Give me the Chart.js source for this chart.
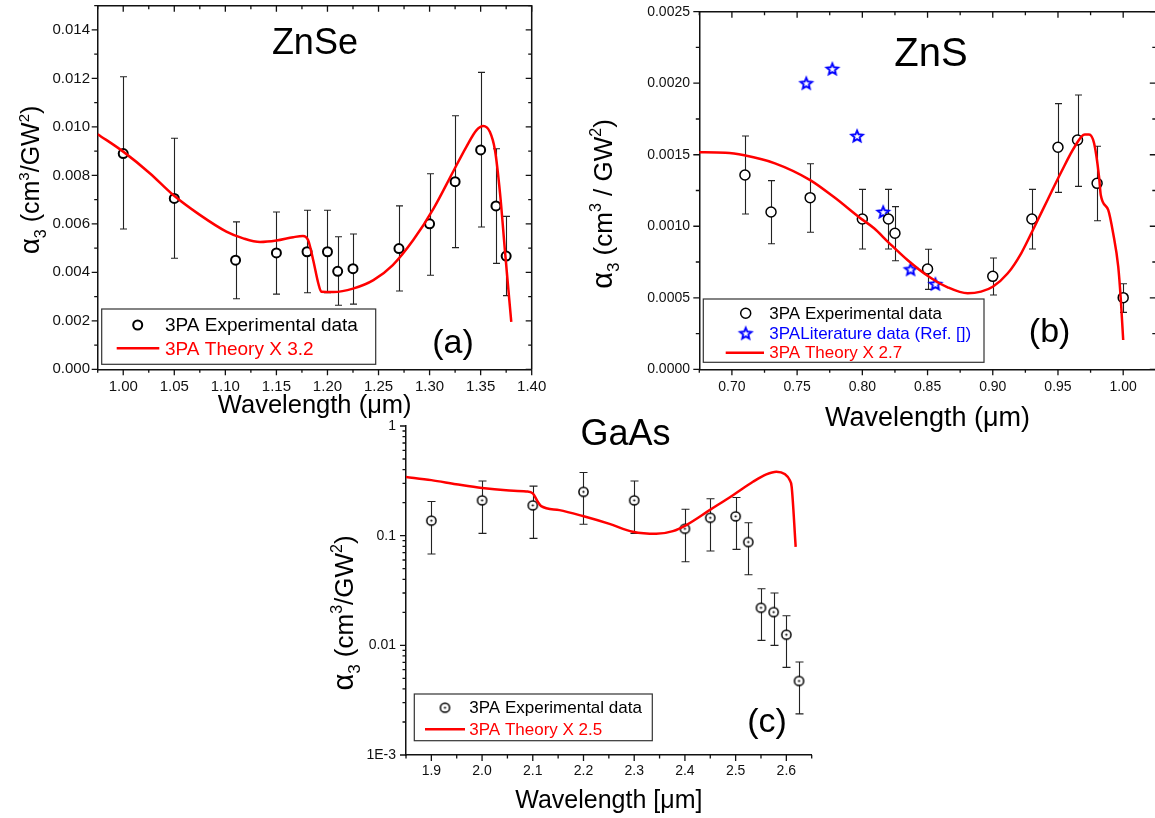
<!DOCTYPE html>
<html><head><meta charset="utf-8">
<script src="https://cdn.jsdelivr.net/npm/chart.js@4.4.1/dist/chart.umd.min.js"></script>
<style>
html,body{margin:0;padding:0;background:#fff;overflow:hidden;width:1155px;height:818px;position:relative;}
canvas{position:absolute;}
</style></head><body>
<canvas id="cA" width="560" height="420" style="left:0px;top:0px"></canvas>
<canvas id="cB" width="600" height="440" style="left:560px;top:0px"></canvas>
<canvas id="cC" width="530" height="418" style="left:300px;top:400px"></canvas>
<script>
// ---------------- DATA ----------------
// (a) ZnSe
const znseExpX  = [1.00, 1.05, 1.11, 1.15, 1.18, 1.20, 1.21, 1.225, 1.27, 1.30, 1.325, 1.35, 1.365, 1.375];
const znseExpY  = [0.0089, 0.00705, 0.0045, 0.0048, 0.00485, 0.00485, 0.00404, 0.00415, 0.00498, 0.0060, 0.00774, 0.00905, 0.00674, 0.00467];
const znseErrHi = [0.01207, 0.00953, 0.00608, 0.00649, 0.00656, 0.00656, 0.00547, 0.00558, 0.00674, 0.00807, 0.01046, 0.01225, 0.0091, 0.00631];
const znseErrLo = [0.00579, 0.00458, 0.00291, 0.0031, 0.00316, 0.00316, 0.00264, 0.00269, 0.00323, 0.00388, 0.00502, 0.00587, 0.00437, 0.00304];
const znseThX = [0.975, 1.000, 1.026, 1.049, 1.075, 1.101, 1.1175, 1.134, 1.150, 1.1665, 1.176, 1.181, 1.186, 1.191, 1.194, 1.206, 1.225, 1.245, 1.264, 1.284, 1.304, 1.323, 1.336, 1.346, 1.3526, 1.359, 1.364, 1.369, 1.374, 1.380];
const znseThY = [0.0097, 0.00898, 0.00809, 0.00719, 0.00637, 0.00568, 0.0054, 0.00525, 0.00531, 0.00545, 0.0055, 0.00533, 0.00451, 0.00355, 0.0032, 0.00319, 0.00333, 0.00368, 0.0043, 0.00533, 0.00664, 0.00815, 0.00918, 0.00987, 0.01004, 0.0098, 0.00905, 0.00726, 0.00479, 0.00196];
const znseXLabels = ['1.00','1.05','1.10','1.15','1.20','1.25','1.30','1.35','1.40'];
const znseYLabels = ['0.000','0.002','0.004','0.006','0.008','0.010','0.012','0.014'];

// (b) ZnS
const znsExpX  = [0.71, 0.73, 0.76, 0.80, 0.82, 0.825, 0.85, 0.90, 0.93, 0.95, 0.965, 0.98, 1.00];
const znsExpY  = [0.001358, 0.00110, 0.00120, 0.001051, 0.001051, 0.000951, 0.000701, 0.000650, 0.001051, 0.001552, 0.001603, 0.00130, 0.000501];
const znsErrHi = [0.001631, 0.001319, 0.001437, 0.001258, 0.001258, 0.001137, 0.000839, 0.000778, 0.001258, 0.001857, 0.001918, 0.001559, 0.000598];
const znsErrLo = [0.001086, 0.000878, 0.000958, 0.000841, 0.000841, 0.000759, 0.000559, 0.000519, 0.000841, 0.001237, 0.001279, 0.001039, 0.000398];
const znsLitX = [0.757, 0.777, 0.796, 0.816, 0.837, 0.856];
const znsLitY = [0.0020, 0.0021, 0.001631, 0.00110, 0.000699, 0.000596];
const znsThX = [0.674, 0.695, 0.7095, 0.733, 0.760, 0.7795, 0.7975, 0.809, 0.820, 0.8346, 0.850, 0.8654, 0.8808, 0.891, 0.900, 0.9115, 0.9218, 0.932, 0.942, 0.9526, 0.9628, 0.9705, 0.9738, 0.9777, 0.9815, 0.9828, 0.9885, 0.9923, 0.9962, 0.9982, 1.000];
const znsThY = [0.001517, 0.001514, 0.001496, 0.00144, 0.001323, 0.001195, 0.001063, 0.000986, 0.000888, 0.000764, 0.000654, 0.000573, 0.000531, 0.000543, 0.000577, 0.000671, 0.000811, 0.000997, 0.001184, 0.001381, 0.001556, 0.001642, 0.001642, 0.00158, 0.001346, 0.001219, 0.001114, 0.000951, 0.000717, 0.000484, 0.000205];
const znsXLabels = ['0.70','0.75','0.80','0.85','0.90','0.95','1.00'];
const znsYLabels = ['0.0000','0.0005','0.0010','0.0015','0.0020','0.0025'];

// (c) GaAs
const gaasExpX  = [1.9, 2.0, 2.1, 2.2, 2.3, 2.4, 2.45, 2.5, 2.525, 2.55, 2.575, 2.6, 2.625];
const gaasExpY  = [0.137, 0.210, 0.189, 0.251, 0.210, 0.1156, 0.1456, 0.150, 0.0875, 0.0220, 0.0201, 0.0125, 0.00473];
const gaasErrHi = [0.205, 0.315, 0.283, 0.377, 0.315, 0.174, 0.217, 0.223, 0.131, 0.0328, 0.030, 0.0186, 0.00705];
const gaasErrLo = [0.068, 0.105, 0.0945, 0.127, 0.105, 0.0578, 0.0724, 0.075, 0.044, 0.0111, 0.010, 0.0063, 0.00237];
const gaasThX = [1.849, 1.9, 1.9487, 2.0, 2.0474, 2.0869, 2.1, 2.1098, 2.1165, 2.1526, 2.1987, 2.2513, 2.2974, 2.3434, 2.3763, 2.4026, 2.4487, 2.4947, 2.5342, 2.5605, 2.5803, 2.5967, 2.6066, 2.6105, 2.6184];
const gaasThY = [0.344, 0.321, 0.295, 0.272, 0.259, 0.253, 0.243, 0.204, 0.186, 0.171, 0.151, 0.128, 0.1086, 0.104, 0.110, 0.125, 0.171, 0.234, 0.310, 0.362, 0.383, 0.365, 0.321, 0.279, 0.079];
const gaasXLabels = ['1.9','2.0','2.1','2.2','2.3','2.4','2.5','2.6'];
const gaasYLabels = ['1E-3','0.01','0.1','1'];

// ---------------- HELPERS ----------------
const FF = "'Liberation Sans', Arial, Helvetica, sans-serif";
Chart.defaults.font.family = FF;
Chart.defaults.color = '#111';
const RED = '#ff0000', BLUE = '#0000ff';

function zip(xs, ys){ return xs.map((x,i)=>({x:x, y:ys[i]})); }
function range(a,b,step){ const out=[]; const n=Math.round((b-a)/step); for(let k=0;k<=n;k++) out.push(+(a+k*step).toFixed(8)); return out; }
function logMinors(d0,d1){ const out=[]; for(let d=d0; d<d1; d++) for(let k=2;k<=9;k++) out.push(+(k*Math.pow(10,d)).toPrecision(6)); return out; }
function makeTicks(labels, minors){
  const majors = labels.map(parseFloat);
  const all = majors.map((v,i)=>({value:v, lab:labels[i]}));
  minors.forEach(v=>{ if(!majors.some(m=>Math.abs(m-v) <= 1e-6*Math.max(Math.abs(v),1e-12))) all.push({value:v, lab:''}); });
  all.sort((a,b)=>a.value-b.value);
  return all;
}
function axis(o){
  const isX = o.pos === 'bottom';
  return {
    type: o.type || 'linear', position: o.pos, min: o.min, max: o.max,
    grid: {display:false, drawTicks:false},
    border: {display:true, color:'#111', width:1.5},
    ticks: {autoSkip:false, maxRotation:0, minRotation:0, padding:o.pad, color:'#111',
      font:{size:o.fs}, callback:(v,i,t)=> (t[i] && t[i].lab !== undefined) ? t[i].lab : ''},
    afterBuildTicks: s => { s.ticks = makeTicks(o.labels, o.minors); },
    afterFit: s => {
      if (isX) { s.height = o.size; s.paddingLeft = 0; s.paddingRight = 0; }
      else { s.width = o.size; s.paddingTop = 0; s.paddingBottom = 0; }
    },
    title: o.title ? {display:true, text:o.title, color:'#000', font:{size:o.tfs, lineHeight:1}, padding:{top:0,bottom:0}} : {display:false}
  };
}
function starImg(r, color){
  const s = Math.ceil(2*r+6); const c = document.createElement('canvas'); c.width=c.height=s;
  const g = c.getContext('2d'); g.translate(s/2, s/2+0.5); g.beginPath();
  for(let k=0;k<10;k++){ const a=-Math.PI/2+k*Math.PI/5; const rr = (k%2)? r*0.45 : r; g.lineTo(rr*Math.cos(a), rr*Math.sin(a)); }
  g.closePath(); g.fillStyle='#fff'; g.fill(); g.lineWidth=1.9; g.lineJoin='miter'; g.strokeStyle=color; g.stroke();
  return c;
}
function dotCircleImg(r){
  const s = Math.ceil(2*r+5); const c = document.createElement('canvas'); c.width=c.height=s;
  const g = c.getContext('2d');
  g.beginPath(); g.arc(s/2,s/2,r,0,Math.PI*2); g.fillStyle='#fff'; g.fill(); g.lineWidth=1.5; g.strokeStyle='#000'; g.stroke();
  g.beginPath(); g.arc(s/2,s/2,1.1,0,Math.PI*2); g.fillStyle='#000'; g.fill();
  return c;
}
const STAR = starImg(6, BLUE);
const DOTC = dotCircleImg(4.6);

// ---------------- DECORATION PLUGIN ----------------
const CFG = {};
function drawRich(ctx, parts, cx, cy, S){
  ctx.save(); ctx.translate(cx, cy); ctx.rotate(-Math.PI/2);
  let W = 0;
  parts.forEach(p=>{ ctx.font = p.s+'px '+FF; p.w = ctx.measureText(p.t).width; W += p.w; });
  let x = -W/2; ctx.textBaseline='alphabetic'; ctx.textAlign='left'; ctx.fillStyle='#000';
  parts.forEach(p=>{ ctx.font = p.s+'px '+FF; ctx.fillText(p.t, x, 0.35*S + (p.dy||0)); x += p.w; });
  ctx.restore();
}
function drawMarker(ctx, kind, x, y){
  if (kind === 'circle' || kind === 'circle2') {
    ctx.beginPath(); ctx.arc(x, y, kind==='circle'?4.5:5, 0, Math.PI*2);
    ctx.fillStyle='#fff'; ctx.fill(); ctx.lineWidth = kind==='circle'?2:1.5; ctx.strokeStyle='#000'; ctx.stroke();
  } else if (kind === 'star') {
    ctx.drawImage(STAR, x-STAR.width/2, y-STAR.height/2);
  } else if (kind === 'dotc') {
    ctx.drawImage(DOTC, x-DOTC.width/2, y-DOTC.height/2);
  }
}
const deco = {
  id: 'deco',
  beforeDatasetsDraw(chart){
    const c = CFG[chart.canvas.id]; if(!c) return;
    const ctx = chart.ctx, xs = chart.scales.x, ys = chart.scales.y;
    ctx.save(); ctx.strokeStyle = '#222'; ctx.lineWidth = 1.1;
    const e = c.err;
    ctx.beginPath();
    e.x.forEach((xv,i)=>{
      const px = Math.round(xs.getPixelForValue(xv))+0.5;
      const pl = ys.getPixelForValue(e.lo[i]), ph = ys.getPixelForValue(e.hi[i]);
      ctx.moveTo(px, pl); ctx.lineTo(px, ph);
      ctx.moveTo(px-e.cap, pl); ctx.lineTo(px+e.cap, pl);
      ctx.moveTo(px-e.cap, ph); ctx.lineTo(px+e.cap, ph);
    });
    ctx.stroke(); ctx.restore();
  },
  afterDraw(chart){
    const c = CFG[chart.canvas.id]; if(!c) return;
    const ctx = chart.ctx, a = chart.chartArea, xs = chart.scales.x, ys = chart.scales.y;
    // tick marks and frame
    ctx.save(); ctx.strokeStyle = '#111'; ctx.lineWidth = 1.3; ctx.beginPath();
    xs.ticks.forEach(t=>{
      const p = xs.getPixelForValue(t.value); const L = t.lab ? 6 : 3.5;
      ctx.moveTo(p, a.bottom); ctx.lineTo(p, a.bottom+L);
      if (c.box) { ctx.moveTo(p, a.top); ctx.lineTo(p, a.top+L); }
    });
    ys.ticks.forEach(t=>{
      const p = ys.getPixelForValue(t.value); const L = t.lab ? 6 : 3.5;
      ctx.moveTo(a.left-L, p); ctx.lineTo(a.left, p);
      if (c.box) { ctx.moveTo(a.right-L, p); ctx.lineTo(a.right, p); }
    });
    ctx.stroke();
    if (c.box) { ctx.lineWidth = 1.5; ctx.beginPath(); ctx.moveTo(a.left, a.top); ctx.lineTo(a.right, a.top); ctx.lineTo(a.right, a.bottom); ctx.stroke(); }
    ctx.restore();
    // annotations
    ctx.save(); ctx.fillStyle='#000'; ctx.textAlign='center'; ctx.textBaseline='alphabetic';
    c.notes.forEach(n=>{
      ctx.font = n.s+'px '+FF;
      ctx.fillText(n.t, xs.getPixelForValue(n.x), ys.getPixelForValue(n.y) + n.b*n.s);
    });
    ctx.restore();
    // y title
    drawRich(ctx, c.ytitle.parts, c.ytitle.cx, c.ytitle.cy, c.ytitle.S);
    // legend
    const L = c.legend;
    ctx.save();
    ctx.fillStyle='#fff'; ctx.fillRect(L.box[0], L.box[1], L.box[2], L.box[3]);
    ctx.strokeStyle='#333'; ctx.lineWidth=1.2; ctx.strokeRect(L.box[0], L.box[1], L.box[2], L.box[3]);
    L.rows.forEach(r=>{
      const ds = chart.data.datasets[r.ds];
      if (r.kind === 'line') {
        ctx.strokeStyle = ds.borderColor; ctx.lineWidth = ds.borderWidth;
        ctx.beginPath(); ctx.moveTo(r.x1, r.y); ctx.lineTo(r.x2, r.y); ctx.stroke();
      } else drawMarker(ctx, r.kind, r.mx, r.y);
      ctx.font = L.fs+'px '+FF; ctx.fillStyle = r.color; ctx.textAlign='left'; ctx.textBaseline='middle';
      ctx.fillText(ds.label, r.tx, r.y+1);
    });
    ctx.restore();
  }
};

function makeChart(id, datasets, xs, ys, pad){
  return new Chart(document.getElementById(id), {
    type: 'scatter',
    data: {datasets: datasets},
    options: {
      responsive:false, animation:false, events:[], devicePixelRatio:1,
      layout: {padding: pad, autoPadding:false},
      plugins: {legend:{display:false}, tooltip:{enabled:false}},
      scales: {x: xs, y: ys}
    },
    plugins: [deco]
  });
}

// ---------------- PANEL (a) ZnSe ----------------
CFG.cA = {
  box: true,
  err: {x: znseExpX, lo: znseErrLo, hi: znseErrHi, cap: 3.5},
  notes: [{t:'ZnSe', x:1.1877, y:0.01353, s:36, b:0.358}, {t:'(a)', x:1.3229, y:0.00104, s:34, b:0.26}],
  ytitle: {cx:30, cy:180, S:25, parts:[{t:'α',s:28},{t:'3',s:16,dy:7},{t:' (cm',s:25},{t:'3',s:15,dy:-10},{t:'/GW',s:25},{t:'2',s:15,dy:-10},{t:')',s:25}]},
  legend: {box:[101.7,309,274,55.3], fs:19, rows:[
    {ds:1, kind:'circle', mx:137.7, y:325, tx:165, color:'#000'},
    {ds:0, kind:'line', x1:116.7, x2:159.3, y:348.3, tx:165, color:RED}]}
};
makeChart('cA', [
  {label:'3PA Theory X 3.2', data: zip(znseThX, znseThY), showLine:true, borderColor:RED, borderWidth:2.5, pointRadius:0, cubicInterpolationMode:'monotone', fill:false, order:0},
  {label:'3PA Experimental data', data: zip(znseExpX, znseExpY), pointStyle:'circle', pointRadius:4.5, pointBorderWidth:2, pointBackgroundColor:'#fff', pointBorderColor:'#000', order:1}
],
  axis({pos:'bottom', min:0.975, max:1.40, labels:znseXLabels, minors:range(0.975,1.40,0.025), pad:8.4, fs:15, size:49.7, title:'Wavelength (μm)', tfs:25.5}),
  axis({pos:'left', min:0, max:0.015, labels:znseYLabels, minors:range(0,0.015,0.001), pad:7.7, fs:15, size:97.7}),
  {left:0, top:5.7, right:28.3, bottom:1});

// ---------------- PANEL (b) ZnS ----------------
CFG.cB = {
  box: true,
  err: {x: znsExpX, lo: znsErrLo, hi: znsErrHi, cap: 3.5},
  notes: [{t:'ZnS', x:0.8526, y:0.00222, s:40, b:0.358}, {t:'(b)', x:0.9436, y:0.000254, s:34, b:0.26}],
  ytitle: {cx:43, cy:204, S:26, parts:[{t:'α',s:29},{t:'3',s:17,dy:7},{t:' (cm',s:26},{t:'3',s:16,dy:-11},{t:' / GW',s:26},{t:'2',s:16,dy:-11},{t:')',s:26}]},
  legend: {box:[143.3,299,280.7,63.3], fs:17, rows:[
    {ds:1, kind:'circle2', mx:185.7, y:313.3, tx:209.3, color:'#000'},
    {ds:2, kind:'star', mx:185.7, y:333.3, tx:209.3, color:BLUE},
    {ds:0, kind:'line', x1:165.7, x2:204, y:352.7, tx:209.3, color:RED}]}
};
makeChart('cB', [
  {label:'3PA Theory X 2.7', data: zip(znsThX, znsThY), showLine:true, borderColor:RED, borderWidth:2.5, pointRadius:0, cubicInterpolationMode:'monotone', fill:false, order:0},
  {label:'3PA Experimental data', data: zip(znsExpX, znsExpY), pointStyle:'circle', pointRadius:5, pointBorderWidth:1.5, pointBackgroundColor:'#fff', pointBorderColor:'#000', order:1},
  {label:'3PALiterature data (Ref. [])', data: zip(znsLitX, znsLitY), pointStyle:STAR, pointRadius:6, order:2}
],
  axis({pos:'bottom', min:0.675, max:1.025, labels:znsXLabels, minors:range(0.675,1.025,0.025), pad:9.6, fs:14, size:63.2, title:'Wavelength (μm)', tfs:27}),
  axis({pos:'left', min:0, max:0.0025, labels:znsYLabels, minors:range(0,0.0025,0.00025), pad:9.3, fs:14, size:139.3}),
  {left:0, top:11.7, right:4.2, bottom:7.5});

// ---------------- PANEL (c) GaAs ----------------
CFG.cC = {
  box: false,
  err: {x: gaasExpX, lo: gaasErrLo, hi: gaasErrHi, cap: 4},
  notes: [{t:'GaAs', x:2.283, y:0.879, s:36, b:0.358}, {t:'(c)', x:2.562, y:0.00196, s:34, b:0.26}],
  ytitle: {cx:44, cy:213, S:26, parts:[{t:'α',s:29},{t:'3',s:17,dy:7},{t:' (cm',s:26},{t:'3',s:16,dy:-11},{t:'/GW',s:26},{t:'2',s:16,dy:-11},{t:')',s:26}]},
  legend: {box:[114.3,294,238,46.7], fs:17, rows:[
    {ds:1, kind:'dotc', mx:145, y:307.7, tx:169.3, color:'#000'},
    {ds:0, kind:'line', x1:125, x2:165, y:329.3, tx:169.3, color:RED}]}
};
makeChart('cC', [
  {label:'3PA Theory X 2.5', data: zip(gaasThX, gaasThY), showLine:true, borderColor:RED, borderWidth:2.5, pointRadius:0, cubicInterpolationMode:'monotone', fill:false, order:0},
  {label:'3PA Experimental data', data: zip(gaasExpX, gaasExpY), pointStyle:DOTC, pointRadius:5, order:1}
],
  axis({pos:'bottom', min:1.85, max:2.65, labels:gaasXLabels, minors:range(1.85,2.65,0.05), pad:7.6, fs:14, size:59, title:'Wavelength [μm]', tfs:25}),
  axis({type:'logarithmic', pos:'left', min:0.001, max:1, labels:gaasYLabels, minors:logMinors(-3,0), pad:10, fs:14, size:106}),
  {left:0, top:26, right:18.3, bottom:4});
</script>
</body></html>
